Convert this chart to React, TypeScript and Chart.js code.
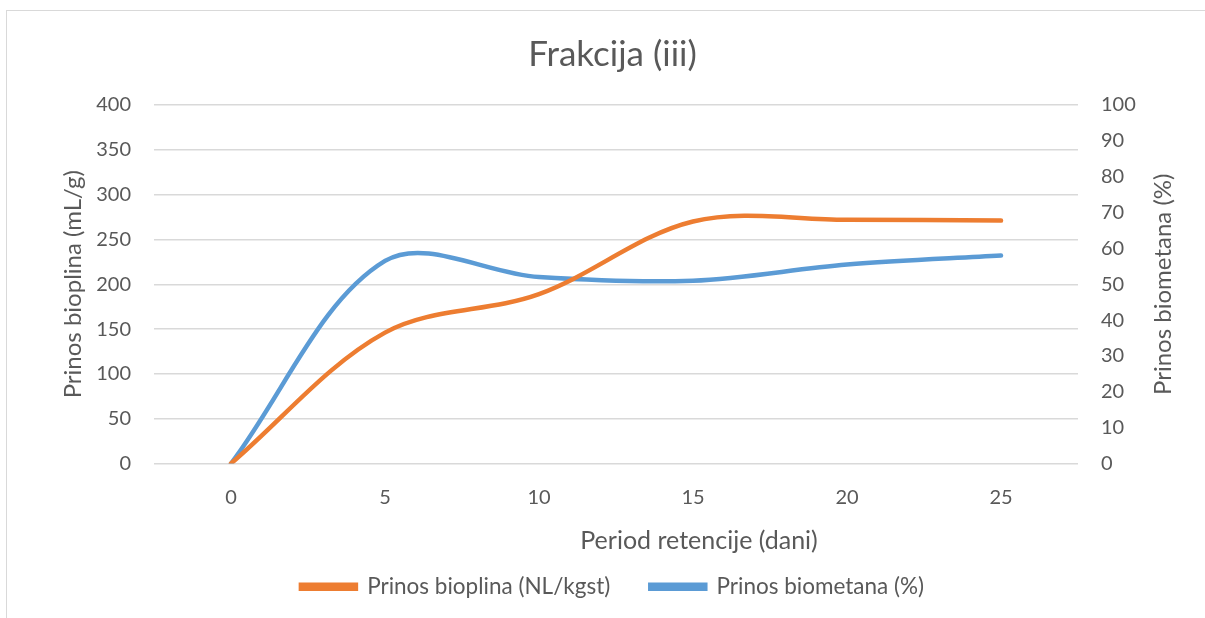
import React, { useEffect, useRef } from "react";
import { Chart, registerables } from "chart.js";

Chart.register(...registerables);

const categories = ["0", "5", "10", "15", "20", "25"];
const biogasValues = [0, 146, 189, 270, 272, 271];
const methaneValues = [0, 56.5, 52, 51, 55.5, 58];
const biogasLabel = "Prinos bioplina (NL/kgst)";
const methaneLabel = "Prinos biometana (%)";
const titleText = "Frakcija (iii)";
const xTitle = "Period retencije (dani)";
const yLeftTitle = "Prinos bioplina (mL/g)";
const yRightTitle = "Prinos biometana (%)";

const FONT = "Lato, 'Open Sans', sans-serif";
const TEXT = "#595959";
const GRID = "#d9d9d9";

// Axis titles placed where the original chart has them (x title is shifted right of centre,
// right title reads bottom-to-top).
const axisTitlesPlugin = {
  id: "axisTitles",
  afterDraw(chart: any) {
    const { ctx, chartArea } = chart;
    ctx.save();
    ctx.fillStyle = TEXT;
    ctx.textAlign = "center";
    ctx.textBaseline = "middle";
    ctx.font = `normal 25px ${FONT}`;
    ctx.fillText(xTitle, 699, chartArea.bottom + 77);
    ctx.translate(1163, (chartArea.top + chartArea.bottom) / 2);
    ctx.rotate(-Math.PI / 2);
    ctx.font = `normal 24px ${FONT}`;
    ctx.fillText(yRightTitle, 0, 0);
    ctx.restore();
  },
};

export default function App() {
  const ref = useRef<HTMLCanvasElement | null>(null);
  useEffect(() => {
    document.body.style.margin = "0";
    const ctx = ref.current!.getContext("2d")!;
    const chart = new Chart(ctx, {
      type: "line",
      data: {
        labels: categories,
        datasets: [
          {
            label: biogasLabel,
            data: biogasValues,
            borderColor: "#ED7D31",
            backgroundColor: "#ED7D31",
            borderWidth: 4.5,
            pointRadius: 0,
            tension: 0.34,
            yAxisID: "y",
            borderCapStyle: "round",
          },
          {
            label: methaneLabel,
            data: methaneValues,
            borderColor: "#5B9BD5",
            backgroundColor: "#5B9BD5",
            borderWidth: 4.5,
            pointRadius: 0,
            tension: 0.34,
            yAxisID: "y1",
            borderCapStyle: "round",
          },
        ],
      },
      options: {
        responsive: false,
        animation: false,
        layout: { padding: { left: 20, right: 0, top: 0, bottom: 10 } },
        plugins: {
          title: {
            display: true,
            text: titleText,
            color: TEXT,
            font: { family: FONT, size: 35, weight: "normal" },
            padding: { top: 34, bottom: 29 },
          },
          legend: {
            position: "bottom",
            labels: {
              color: TEXT,
              font: { family: FONT, size: 22.5 },
              boxWidth: 55,
              boxHeight: 4,
              padding: 40,
            },
          },
          tooltip: { enabled: false },
        },
        scales: {
          x: {
            offset: true,
            grid: { display: false, drawTicks: false },
            border: { display: false },
            ticks: { color: TEXT, font: { family: FONT, size: 20 }, padding: 22 },
            afterFit: (s: any) => {
              s.height = 72;
            },
          },
          y: {
            position: "left",
            min: 0,
            max: 400,
            ticks: { stepSize: 50, color: TEXT, font: { family: FONT, size: 20 }, padding: 23 },
            grid: { color: GRID, lineWidth: 1.5, drawTicks: false },
            border: { display: false },
            title: {
              display: true,
              text: yLeftTitle,
              color: TEXT,
              font: { family: FONT, size: 24 },
              padding: { top: 38.6, bottom: 0 },
            },
            afterFit: (s: any) => {
              s.width = 134;
            },
          },
          y1: {
            position: "right",
            min: 0,
            max: 100,
            ticks: { stepSize: 10, color: TEXT, font: { family: FONT, size: 20 }, padding: 23 },
            grid: { display: false, drawTicks: false },
            border: { display: false },
            afterFit: (s: any) => {
              s.width = 127;
            },
          },
        },
      },
      plugins: [axisTitlesPlugin],
    });
    return () => chart.destroy();
  }, []);

  return (
    <div style={{ position: "absolute", left: 0, top: 0, width: 1205, height: 618, background: "#fff" }}>
      <div
        style={{
          position: "absolute",
          left: 6,
          top: 10,
          width: 1199,
          height: 608,
          borderLeft: "1.5px solid #d9d9d9",
          borderTop: "1.5px solid #d9d9d9",
          boxSizing: "border-box",
        }}
      />
      <canvas ref={ref} width={1205} height={618} style={{ position: "absolute", left: 0, top: 0 }} />
    </div>
  );
}
